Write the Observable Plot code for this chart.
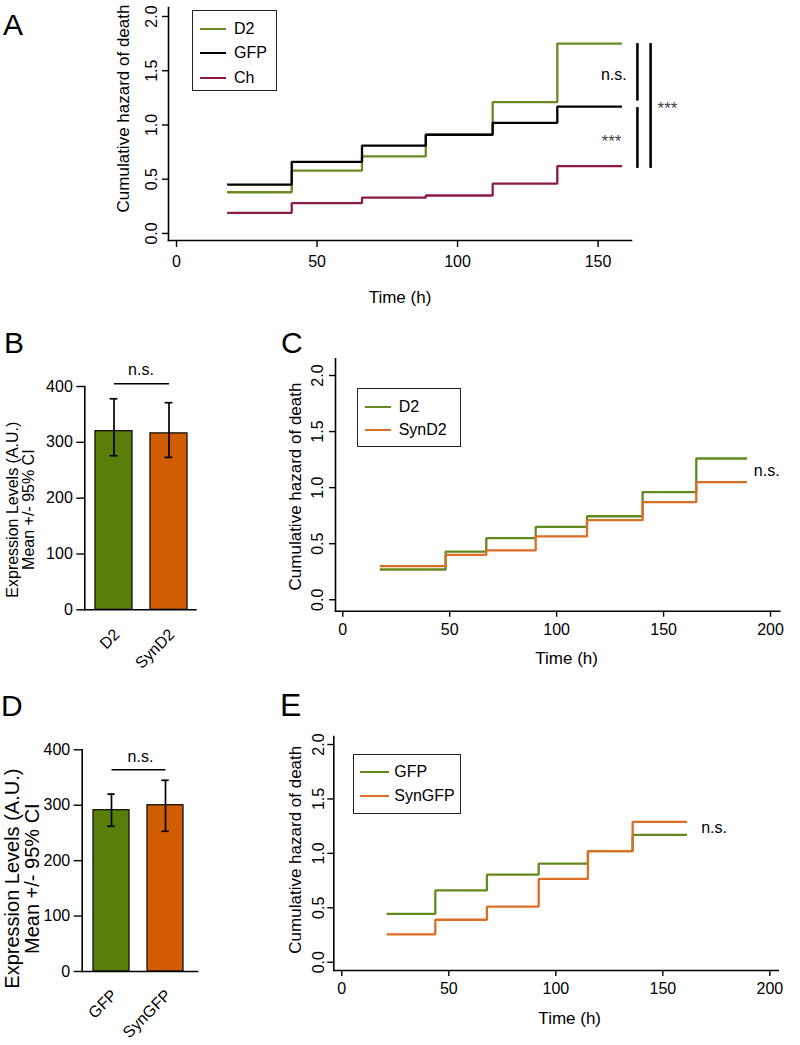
<!DOCTYPE html>
<html><head><meta charset="utf-8">
<script src="https://cdn.jsdelivr.net/npm/d3@7"></script>
<script src="https://cdn.jsdelivr.net/npm/@observablehq/plot@0.6"></script>
<style>
body{margin:0;background:#fff;}
#page{position:relative;width:800px;height:1045px;overflow:hidden;font-family:"Liberation Sans",Arial,Helvetica,sans-serif;color:#000;background:#fff;}
.panel{position:absolute;}
.letter{position:absolute;line-height:1;white-space:nowrap;}
.legend{position:absolute;box-sizing:border-box;border:1.4px solid #222;background:#fff;}
.legend .ln{position:absolute;height:2px;}
.legend .tx{position:absolute;font-size:16px;line-height:16px;white-space:nowrap;}
</style></head><body><div id="page"></div>
<script>
// ---------- Panel A data ----------
const timesA = [18, 41, 66, 88.7, 112.5, 135.5];
const endA = 158.5;
const hazA_D2  = [0.38, 0.58, 0.71, 0.91, 1.21, 1.75];
const hazA_GFP = [0.45, 0.66, 0.81, 0.91, 1.02, 1.17];
const hazA_Ch  = [0.19, 0.28, 0.33, 0.35, 0.46, 0.62];
const seriesA = ["D2", "GFP", "Ch"];
const sigRuleX = [164, 164, 168.7];
const sigRuleTop = [1.75, 1.16, 1.75];
const sigRuleBottom = [1.22, 0.60, 0.60];
const sigLabels = ["n.s.", "***", "***"];
const sigLabelX = [155.6, 154.8, 174.7];
const sigLabelY = [1.466, 0.885, 1.189];

// ---------- Panel C data ----------
const timesC = [17.3, 48.1, 67.1, 90.2, 114.2, 140.2, 165.3];
const endC = 189;
const hazC_D2    = [0.27, 0.43, 0.55, 0.65, 0.745, 0.96, 1.26];
const hazC_SynD2 = [0.30, 0.40, 0.44, 0.565, 0.71, 0.87, 1.05];
const seriesC = ["D2", "SynD2"];
const nsC = {x: 192.2, y: 1.147, label: "n.s."};

// ---------- Panel E data ----------
const timesE = [20.9, 43.7, 67.8, 92, 115, 135.9];
const endE = 161.3;
const hazE_GFP    = [0.445, 0.66, 0.805, 0.905, 1.02, 1.17];
const hazE_SynGFP = [0.255, 0.39, 0.51, 0.765, 1.02, 1.29];
const seriesE = ["GFP", "SynGFP"];
const nsE = {x: 167.9, y: 1.231, label: "n.s."};

// ---------- Bar panels ----------
const catsB = ["D2", "SynD2"];
const meanB = [320, 316];
const ciLoB = [276, 273];
const ciHiB = [378, 371];
const bracketB = 405, nsYB = 429;

const catsD = ["GFP", "SynGFP"];
const meanD = [291, 300];
const ciLoD = [262, 253];
const ciHiD = [320, 345];
const bracketD = 364, nsYD = 388;

// ---------- ticks & labels ----------
const hazTicks = [0, 0.5, 1, 1.5, 2];
const timeTicksA = [0, 50, 100, 150];
const timeTicksCE = [0, 50, 100, 150, 200];
const exprTicks = [0, 100, 200, 300, 400];
const hazLabel = "Cumulative hazard of death";
const timeLabel = "Time (h)";
const exprLabelLines = ["Expression Levels (A.U.)", "Mean +/- 95% CI"];

// ---------- colours ----------
const colA = {D2: "#6a8a24", GFP: "#000000", Ch: "#8b1b45"};
const lineGreen = "#618a1f", lineOrange = "#dc6f24";
const barColors = ["#5b7e0b", "#d15d00"];

const FONT = '"Liberation Sans", Arial, Helvetica, sans-serif';
const page = document.getElementById("page");

function steps(times, vals, end, name) {
  const pts = times.map((t, i) => ({t, v: vals[i], s: name}));
  pts.push({t: end, v: vals[vals.length - 1], s: name});
  return pts;
}

function place(node, left, top) {
  const d = document.createElement("div");
  d.className = "panel";
  d.style.left = left + "px";
  d.style.top = top + "px";
  d.appendChild(node);
  page.appendChild(d);
}

function letter(txt, left, top, size) {
  const d = document.createElement("div");
  d.className = "letter";
  d.textContent = txt;
  d.style.left = left + "px";
  d.style.top = top + "px";
  d.style.fontSize = size + "px";
  page.appendChild(d);
}

function legend(left, top, w, h, items, lineX0, lineX1, textX, ys) {
  const box = document.createElement("div");
  box.className = "legend";
  box.style.left = left + "px"; box.style.top = top + "px";
  box.style.width = w + "px"; box.style.height = h + "px";
  items.forEach((it, i) => {
    const ln = document.createElement("div");
    ln.className = "ln";
    ln.style.left = lineX0 + "px"; ln.style.width = (lineX1 - lineX0) + "px";
    ln.style.top = (ys[i] - 1) + "px"; ln.style.background = it.color;
    box.appendChild(ln);
    const tx = document.createElement("div");
    tx.className = "tx";
    tx.textContent = it.label;
    tx.style.left = textX + "px"; tx.style.top = (ys[i] - 8) + "px";
    box.appendChild(tx);
  });
  page.appendChild(box);
}

function hazardPlot(cfg) {
  return Plot.plot({
    width: cfg.w, height: cfg.h,
    marginLeft: cfg.mL, marginRight: cfg.mR, marginTop: cfg.mT, marginBottom: cfg.mB,
    x: {domain: cfg.xd, axis: null},
    y: {domain: cfg.yd, axis: null},
    style: {fontFamily: FONT, fontSize: "16px", color: "#000", background: "transparent", overflow: "visible"},
    marks: [
      Plot.frame({anchor: "left", strokeWidth: 1.6}),
      Plot.frame({anchor: "bottom", strokeWidth: 1.6}),
      Plot.axisY({ticks: hazTicks, tickSize: 6, tickFormat: () => "", label: null, strokeWidth: 1.4}),
      Plot.text(hazTicks, {y: d => d, frameAnchor: "left", dx: cfg.yTickDx, rotate: -90,
        text: d => d.toFixed(1), textAnchor: "middle", lineAnchor: "middle", fontSize: 16}),
      Plot.axisX({ticks: cfg.xTicks, tickSize: cfg.xTickSize, tickPadding: cfg.xTickPad, label: null, fontSize: 16, strokeWidth: 1.4}),
      Plot.text([hazLabel], {frameAnchor: "left", dx: cfg.yLabDx, dy: cfg.yLabDy, rotate: -90,
        textAnchor: "middle", lineAnchor: "middle", fontSize: 17}),
      Plot.text([timeLabel], {frameAnchor: "bottom", dx: cfg.xLabDx, dy: cfg.xLabDy,
        textAnchor: "middle", lineAnchor: "middle", fontSize: 17}),
      ...cfg.series.map(s => Plot.line(s.data, {x: "t", y: "v", curve: "step-after",
        stroke: s.color, strokeWidth: 2.3, strokeLinecap: "butt", strokeLinejoin: "miter"})),
      ...(cfg.extra || [])
    ]
  });
}

function barPlot(cfg) {
  const rows = cfg.cats.map((c, i) => ({c, m: cfg.mean[i], lo: cfg.lo[i], hi: cfg.hi[i], col: barColors[i]}));
  return Plot.plot({
    width: cfg.w, height: cfg.h,
    marginLeft: cfg.mL, marginRight: cfg.mR, marginTop: cfg.mT, marginBottom: cfg.mB,
    x: {domain: cfg.cats, paddingInner: 0.33, paddingOuter: cfg.po, align: cfg.align, axis: null},
    y: {domain: [0, 400], axis: null},
    color: {type: "identity"},
    style: {fontFamily: FONT, fontSize: "16px", color: "#000", background: "transparent", overflow: "visible"},
    marks: [
      Plot.barY(rows, {x: "c", y: "m", fill: "col", stroke: "#111", strokeWidth: 1.3}),
      Plot.ruleX(rows, {x: "c", y1: "lo", y2: "hi", strokeWidth: 1.7}),
      Plot.tickY(rows, {x: "c", y: "hi", insetLeft: cfg.capInset, insetRight: cfg.capInset, strokeWidth: 1.7}),
      Plot.tickY(rows, {x: "c", y: "lo", insetLeft: cfg.capInset, insetRight: cfg.capInset, strokeWidth: 1.7}),
      Plot.frame({anchor: "left", strokeWidth: 1.6}),
      Plot.ruleY([0], {strokeWidth: 1.6}),
      Plot.axisY({ticks: exprTicks, tickSize: 8, tickPadding: 4, label: null, fontSize: 16, strokeWidth: 1.4}),
      Plot.link([{a: cfg.cats[0], b: cfg.cats[1], y: cfg.bracket}], {x1: "a", x2: "b", y1: "y", y2: "y", strokeWidth: 1.6}),
      Plot.text(["n.s."], {frameAnchor: "top", y: () => cfg.nsY, textAnchor: "middle", lineAnchor: "middle", fontSize: 16}),
      Plot.text(rows, {x: "c", text: "c", frameAnchor: "bottom", rotate: -45, textAnchor: "end",
        lineAnchor: "middle", dx: 3, dy: cfg.catDy, fontSize: 16}),
      Plot.text([exprLabelLines.join("\n")], {frameAnchor: "left", dx: cfg.yLabDx, dy: cfg.yLabDy, rotate: -90,
        textAnchor: "middle", lineAnchor: "middle", lineHeight: 1.0, fontSize: cfg.yLabSize})
    ]
  });
}

// ---------- Panel A ----------
const dataA = [
  {data: steps(timesA, hazA_D2, endA, "D2"), color: colA.D2},
  {data: steps(timesA, hazA_GFP, endA, "GFP"), color: colA.GFP},
  {data: steps(timesA, hazA_Ch, endA, "Ch"), color: colA.Ch}
];
const sigRows = sigRuleX.map((x, i) => ({x, y1: sigRuleTop[i], y2: sigRuleBottom[i]}));
const sigTxt = sigLabels.map((l, i) => ({l, x: sigLabelX[i], y: sigLabelY[i]}));
place(hazardPlot({
  w: 720, h: 320, mL: 168, mR: 89, mT: 7, mB: 80,
  xd: [-2.85, 161.9], yd: [-0.065, 2.083], xTicks: timeTicksA, xTickSize: 7, xTickPad: 8,
  yTickDx: -17, yLabDx: -45, yLabDy: -15.5, xLabDx: 0, xLabDy: 57,
  series: dataA,
  extra: [
    Plot.ruleX(sigRows, {x: "x", y1: "y1", y2: "y2", strokeWidth: 2.6}),
    Plot.text(sigTxt.filter(d => d.l === "n.s."), {x: "x", y: "y", text: "l", fontSize: 16, textAnchor: "middle", lineAnchor: "middle"}),
    Plot.text(sigTxt.filter(d => d.l !== "n.s."), {x: "x", y: "y", text: "l", fontSize: 17, fill: "#444", dy: 4.3, textAnchor: "middle", lineAnchor: "middle"})
  ]
}), 0, 0);
legend(192, 10, 85, 81, seriesA.map(s => ({label: s, color: colA[s]})), 7, 33, 41, [18, 42, 67]);

// ---------- Panel C ----------
place(hazardPlot({
  w: 540, h: 330, mL: 75, mR: 20.7, mT: 18.3, mB: 59.3,
  xd: [-3.41, 204.35], yd: [-0.102, 2.149], xTicks: timeTicksCE, xTickSize: 6, xTickPad: 6,
  yTickDx: -17.5, yLabDx: -39.5, yLabDy: 1.5, xLabDx: 9, xLabDy: 47.7,
  series: [
    {data: steps(timesC, hazC_D2, endC, "D2"), color: lineGreen},
    {data: steps(timesC, hazC_SynD2, endC, "SynD2"), color: lineOrange}
  ],
  extra: [Plot.text([nsC], {x: "x", y: "y", text: "label", fontSize: 16, textAnchor: "start", lineAnchor: "middle"})]
}), 260, 340);
legend(357.3, 387.7, 103.4, 59.6, [{label: seriesC[0], color: lineGreen}, {label: seriesC[1], color: lineOrange}], 6.7, 32.7, 40.4, [18, 41.6]);

// ---------- Panel E ----------
place(hazardPlot({
  w: 540, h: 345, mL: 73.3, mR: 22.3, mT: 36, mB: 75,
  xd: [-3.74, 203.9], yd: [-0.076, 2.0735], xTicks: timeTicksCE, xTickSize: 6, xTickPad: 6,
  yTickDx: -15, yLabDx: -37.8, yLabDy: -3.8, xLabDx: 13.7, xLabDy: 47.7,
  series: [
    {data: steps(timesE, hazE_GFP, endE, "GFP"), color: lineGreen},
    {data: steps(timesE, hazE_SynGFP, endE, "SynGFP"), color: lineOrange}
  ],
  extra: [Plot.text([nsE], {x: "x", y: "y", text: "label", fontSize: 16, textAnchor: "start", lineAnchor: "middle"})]
}), 260, 700);
legend(353, 754.3, 107.7, 60, [{label: seriesE[0], color: lineGreen}, {label: seriesE[1], color: lineOrange}], 6, 35.3, 40.3, [16.7, 41]);

// ---------- Panel B ----------
place(barPlot({
  w: 250, h: 320, mL: 84.3, mR: 53.3, mT: 46, mB: 50.7,
  cats: catsB, mean: meanB, lo: ciLoB, hi: ciHiB, po: 0.175, align: 0.5, capInset: 14.6,
  bracket: bracketB, nsY: nsYB, catDy: 22, yLabDx: -64.3, yLabDy: 11.5, yLabSize: 16
}), 0, 340);

// ---------- Panel D ----------
place(barPlot({
  w: 250, h: 345, mL: 81.7, mR: 51.7, mT: 69.3, mB: 54,
  cats: catsD, mean: meanD, lo: ciLoD, hi: ciHiD, po: 0.23, align: 0.42, capInset: 14.3,
  bracket: bracketD, nsY: nsYD, catDy: 21, yLabDx: -59.7, yLabDy: 18, yLabSize: 20
}), 0, 680);

// ---------- panel letters ----------
letter("A", 3, 10, 30);
letter("B", 4, 328, 30);
letter("C", 281, 328, 30);
letter("D", 1, 691, 30);
letter("E", 280, 689, 32);
</script></body></html>
